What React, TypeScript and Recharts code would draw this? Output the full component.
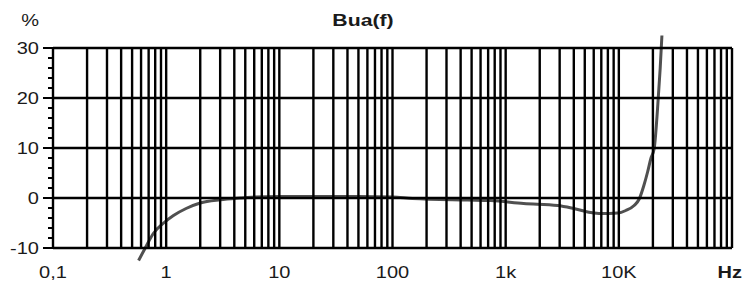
import { LineChart, Line, XAxis, YAxis, ReferenceLine } from 'recharts';

// Bua(f) response
const freqs = [
  0.57, 0.65, 0.77, 0.95, 1.16, 1.5, 2, 3, 4.5, 5.2, 10, 50, 100, 150, 460, 736, 1440, 2880, 4000,
  5650, 6930, 9800, 11530, 13650, 15140, 16640, 17950, 19190, 20530, 21990, 23190, 24030,
];
const levels = [
  -12.5, -10.1, -7.1, -5.0, -3.5, -2.1, -1.0, -0.35, 0.0, 0.1, 0.3, 0.3, 0.2, -0.1, -0.4, -0.5, -1.1, -1.5,
  -2.1, -2.9, -3.1, -3.0, -2.5, -1.5, -0.2, 2.5, 5.2, 7.9, 9.9, 17.9, 25.9, 32.5,
];

const xTicks = [0.1, 1, 10, 100, 1000, 10000];
const xTickLabels = ['0,1', '1', '10', '100', '1k', '10K'];
const yTicks = [-10, -8, -6, -4, -2, 0, 2, 4, 6, 8, 10, 12, 14, 16, 18, 20, 22, 24, 26, 28, 30];
const yGrid = [-10, 0, 10, 20, 30];

const FONT = '"Liberation Sans", Arial, sans-serif';
const INK = '#1a1a1a';

const data = freqs.map((f, i) => ({ f, v: levels[i] }));

// vertical log grid: 1..9 in every decade plus the closing line
const gridFreqs: number[] = [];
xTicks.forEach(d => {
  for (let k = 1; k <= 9; k++) gridFreqs.push(k * d);
});
gridFreqs.push(100000);

// the original lettering is stretched sideways
const Txt = ({ x, y, anchor = 'middle', size = 16, bold = false, dy, children }: any) => (
  <text
    transform={`translate(${x},${y}) scale(1.25,1)`}
    dy={dy}
    textAnchor={anchor}
    fontSize={size}
    fontWeight={bold ? 'bold' : 'normal'}
    fontFamily={FONT}
    fill={INK}
  >
    {children}
  </text>
);

const XTick = (props: any) => {
  const { x, y, payload } = props;
  const idx = xTicks.indexOf(payload.value);
  return <Txt x={x} y={y + 15}>{idx >= 0 ? xTickLabels[idx] : ''}</Txt>;
};

const YTick = (props: any) => {
  const { x, y, payload } = props;
  const major = payload.value % 10 === 0;
  return (
    <g>
      <line x1={x - (major ? 10 : 5)} x2={x} y1={y} y2={y} stroke="#000" strokeWidth={2} />
      {major && (
        <Txt x={x - 14} y={y} dy="0.36em" anchor="end">
          {payload.value}
        </Txt>
      )}
    </g>
  );
};

export default function App() {
  return (
    <div style={{ position: 'absolute', left: 0, top: 0, width: 743, height: 289, background: '#fff' }}>
      <LineChart width={743} height={289} data={data} margin={{ top: 33, right: 11, bottom: 0, left: 8 }}>
        <XAxis
          dataKey="f"
          type="number"
          scale="log"
          domain={[0.1, 100000]}
          allowDataOverflow
          ticks={xTicks}
          interval={0}
          height={26}
          axisLine={false}
          tickLine={false}
          tickSize={0}
          tickMargin={0}
          tick={(p: any) => <XTick {...p} />}
        />
        <YAxis
          type="number"
          domain={[-13, 33]}
          allowDataOverflow
          ticks={yTicks}
          interval={0}
          width={45}
          axisLine={false}
          tickLine={false}
          tickSize={0}
          tickMargin={0}
          tick={(p: any) => <YTick {...p} />}
        />
        <Line
          type="monotone"
          dataKey="v"
          stroke="#505050"
          strokeWidth={3}
          dot={false}
          isAnimationActive={false}
        />
        {yGrid.map(v => (
          <ReferenceLine
            key={`h-${v}`}
            segment={[{ x: 0.1, y: v }, { x: 100000, y: v }]}
            stroke="#000"
            strokeWidth={2.4}
          />
        ))}
        {gridFreqs.map((f, i) => (
          <ReferenceLine
            key={`v-${i}`}
            segment={[{ x: f, y: -10 }, { x: f, y: 30 }]}
            stroke="#000"
            strokeWidth={2.4}
          />
        ))}
      </LineChart>
      <svg width={743} height={289} style={{ position: 'absolute', left: 0, top: 0, pointerEvents: 'none' }}>
        <Txt x={39} y={26} anchor="end">%</Txt>
        <Txt x={363} y={26} size={17} bold>Bua(f)</Txt>
        <Txt x={742} y={278} anchor="end" bold>Hz</Txt>
      </svg>
    </div>
  );
}
